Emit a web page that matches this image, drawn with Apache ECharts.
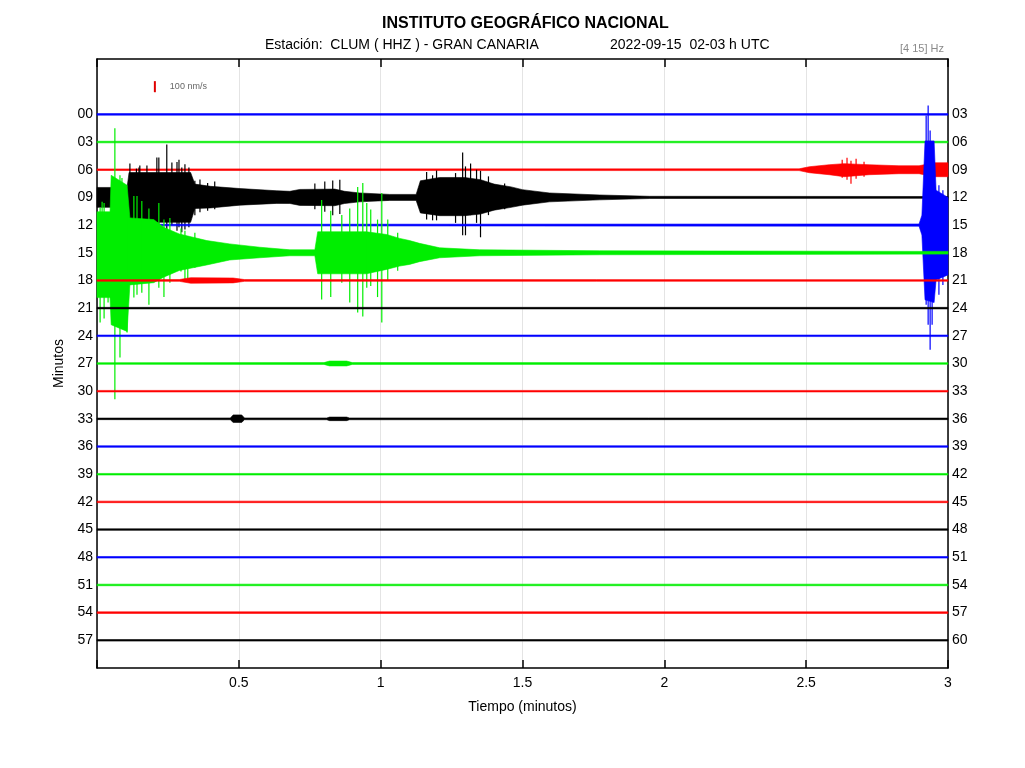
<!DOCTYPE html>
<html><head><meta charset="utf-8">
<script src="https://cdn.jsdelivr.net/npm/echarts@6/dist/echarts.min.js"></script>
<style>html,body{margin:0;padding:0;background:#fff}#c{width:1025px;height:768px}</style>
</head><body><div id="c"></div>
<script>
// ---- data ----
const rowStartLabels = ['00','03','06','09','12','15','18','21','24','27','30','33','36','39','42','45','48','51','54','57'];
const rowEndLabels   = ['03','06','09','12','15','18','21','24','27','30','33','36','39','42','45','48','51','54','57','60'];
const xTickValues = [0.5, 1, 1.5, 2, 2.5, 3];
const scaleBarNms = 100;               // nm/s shown by the red bar
const NMS_PER_ROW = 250;               // amplitude units per trace spacing
const quietNoise = 7;                  // nm/s background level for quiet traces

// dense core envelopes: [minute, up (nm/s), down (nm/s)]
const core06 = [[0,7,7],[2.475,8,8],[2.511,27,27],[2.581,45,45],[2.634,55,63],[2.722,45,45],[2.827,36,36],[2.898,36,36],[2.951,63,63],[3,63,63]];
const core09 = [[0,90,90],[0.106,90,90],[0.113,225,225],[0.330,225,225],[0.345,120,100],[0.400,100,95],[0.504,80,70],[0.634,60,54],[0.680,55,55],[0.715,72,72],[0.838,75,75],[0.873,55,55],[0.926,40,40],[1.032,27,27],[1.125,27,27],[1.140,150,140],[1.208,180,165],[1.296,180,165],[1.352,160,150],[1.400,120,115],[1.460,95,90],[1.500,70,70],[1.595,40,40],[1.771,22,22],[1.947,10,10],[3,8,8]];
const core12 = [[0,7,7],[2.898,10,10],[2.908,90,90],[2.919,760,675],[2.951,760,700],[2.958,315,495],[3,250,450]];
const core15 = [[0,370,405],[0.046,370,405],[0.050,700,650],[0.106,610,710],[0.116,315,290],[0.200,300,270],[0.235,230,220],[0.290,170,160],[0.387,110,110],[0.468,80,65],[0.574,50,45],[0.680,27,27],[0.768,27,27],[0.778,190,190],[0.950,190,190],[1.021,165,150],[1.067,130,120],[1.102,110,105],[1.137,85,80],[1.208,45,45],[1.349,27,27],[1.771,18,18],[3,12,12]];
const core18 = [[0,7,7],[0.29,8,8],[0.33,25,25],[0.48,22,22],[0.52,8,8],[3,7,7]];
const core27 = [[0,7,7],[0.80,8,8],[0.82,22,22],[0.88,22,22],[0.90,8,8],[3,7,7]];
const core33 = [[0,7,7],[0.47,8,8],[0.48,36,32],[0.51,36,32],[0.52,8,8],[0.81,8,8],[0.82,16,16],[0.88,16,16],[0.89,8,8],[3,7,7]];

// individual peaks: [minute, up (nm/s), down (nm/s)]
const spikes06 = [[2.627,90,72],[2.644,108,90],[2.658,81,126],[2.676,99,81],[2.704,72,63]];
const spikes09 = [[0.116,306,252],[0.139,260,315],[0.148,270,300],[0.151,288,270],[0.176,288,250],[0.211,360,290],[0.218,360,290],[0.246,477,340],[0.264,315,250],[0.282,320,300],[0.289,340,270],[0.299,270,315],[0.310,300,290],[0.324,270,270],[0.345,150,160],[0.363,162,135],[0.390,130,120],[0.415,144,108],[0.768,126,108],[0.803,144,130],[0.831,153,162],[0.856,160,150],[1.162,230,200],[1.183,200,207],[1.197,243,207],[1.264,220,230],[1.289,405,342],[1.299,280,342],[1.317,306,160],[1.338,250,230],[1.352,240,360],[1.380,190,160],[1.437,126,108]];
const spikes12 = [[2.923,990,720],[2.930,1080,900],[2.937,855,1125],[2.944,630,900],[2.968,360,630],[2.982,315,540]];
const spikes15 = [[0.011,405,630],[0.018,460,350],[0.025,450,594],[0.039,360,450],[0.063,1125,1323],[0.081,700,945],[0.088,675,540],[0.106,495,720],[0.130,513,405],[0.141,513,378],[0.158,468,360],[0.183,400,470],[0.218,450,315],[0.236,300,400],[0.257,315,270],[0.296,220,170],[0.310,198,252],[0.320,150,240],[0.345,180,135],[0.792,477,423],[0.824,380,400],[0.863,342,270],[0.891,400,450],[0.919,594,540],[0.937,630,576],[0.951,450,315],[0.965,390,300],[0.989,300,400],[1.004,540,630],[1.025,300,252],[1.060,180,162]];

// ---- styling / assembly ----
const traceColorCycle = ['#0000ff','#00ee00','#ff0000','#000000'];
const cores = {2: core06, 3: core09, 4: core12, 5: core15, 6: core18, 9: core27, 11: core33};
const spikes = {2: spikes06, 3: spikes09, 4: spikes12, 5: spikes15};
const FONT = 'Liberation Sans, Arial, sans-serif';

function makeCore(i){
  const env = cores[i] || [[0,quietNoise,quietNoise],[3,quietNoise,quietNoise]];
  const color = traceColorCycle[i % 4];
  return {
    type:'custom', xAxisIndex:0, yAxisIndex:0, silent:true, animation:false, z: 2 + i,
    data:[[0,i]],
    renderItem(params, api){
      const up = env.map(p => api.coord([p[0], i - p[1]/NMS_PER_ROW]));
      const dn = env.slice().reverse().map(p => api.coord([p[0], i + p[2]/NMS_PER_ROW]));
      return {type:'polygon', shape:{points: up.concat(dn)}, style:{fill: color, stroke: color, lineWidth: 0.6}};
    }
  };
}
function makeSpikes(i){
  const color = traceColorCycle[i % 4];
  return {
    type:'custom', xAxisIndex:0, yAxisIndex:0, silent:true, animation:false, z: 2 + i,
    data: spikes[i],
    renderItem(params, api){
      const a = api.coord([api.value(0), i - api.value(1)/NMS_PER_ROW]);
      const b = api.coord([api.value(0), i + api.value(2)/NMS_PER_ROW]);
      return {type:'line', shape:{x1:a[0], y1:a[1], x2:b[0], y2:b[1]}, style:{stroke: color, lineWidth: 1.2}};
    }
  };
}

const series = [];
rowStartLabels.forEach((_, i) => {
  series.push(makeCore(i));
  if (spikes[i]) series.push(makeSpikes(i));
});
series.push({
  type:'custom', xAxisIndex:0, yAxisIndex:0, silent:true, animation:false, z: 30,
  data:[[0.204, -1]],
  renderItem(params, api){
    const half = scaleBarNms/2/NMS_PER_ROW;
    const a = api.coord([api.value(0), api.value(1) - half]);
    const b = api.coord([api.value(0), api.value(1) + half]);
    return {type:'group', children:[
      {type:'line', shape:{x1:a[0], y1:a[1], x2:b[0], y2:b[1]}, style:{stroke:'#e00000', lineWidth:2}},
      {type:'text', style:{text: scaleBarNms + ' nm/s', x: a[0] + 15, y: (a[1]+b[1])/2, verticalAlign:'middle', fill:'#666', font: '9px ' + FONT}}
    ]};
  }
});

const chart = echarts.init(document.getElementById('c'), null, {renderer:'canvas'});
chart.setOption({
  backgroundColor:'#fff',
  animation:false,
  title:[
    {text:'INSTITUTO GEOGRÁFICO NACIONAL', left:377, top:11, textStyle:{fontFamily:FONT, fontSize:16, fontWeight:'bold', color:'#000'}},
    {text:'Estación:  CLUM ( HHZ ) - GRAN CANARIA', left:260, top:33, textStyle:{fontFamily:FONT, fontSize:14, fontWeight:'normal', color:'#000'}},
    {text:'2022-09-15  02-03 h UTC', left:605, top:33, textStyle:{fontFamily:FONT, fontSize:14, fontWeight:'normal', color:'#000'}},
    {text:'[4 15] Hz', left:895, top:38, textStyle:{fontFamily:FONT, fontSize:11, fontWeight:'normal', color:'#8a8a8a'}}
  ],
  grid:{left:97, right:77, top:59, bottom:100, containLabel:false},
  xAxis:[
    {type:'value', min:0, max:3, interval:0.5, position:'bottom',
     axisLine:{onZero:false, lineStyle:{color:'#000', width:1.5}},
     axisTick:{inside:true, length:8, lineStyle:{color:'#000', width:1.5}},
     axisLabel:{fontFamily:FONT, fontSize:14, color:'#000', margin:8, formatter: v => xTickValues.includes(v) ? String(v) : ''},
     splitLine:{show:true, lineStyle:{color:'#e4e4e4', width:1}},
     name:'Tiempo (minutos)', nameLocation:'middle', nameGap:32, nameTextStyle:{fontFamily:FONT, fontSize:14, color:'#000'}},
    {type:'value', min:0, max:3, interval:0.5, position:'top',
     axisLine:{onZero:false, lineStyle:{color:'#000', width:1.5}},
     axisTick:{inside:true, length:8, lineStyle:{color:'#000', width:1.5}},
     axisLabel:{show:false}, splitLine:{show:false}}
  ],
  yAxis:[
    {type:'value', inverse:true, min:-2, max:20, interval:1, position:'left',
     axisLine:{onZero:false, lineStyle:{color:'#000', width:1.5}},
     axisTick:{show:false},
     axisLabel:{fontFamily:FONT, fontSize:14, color:'#000', margin:4, formatter: v => (v>=0 && v<rowStartLabels.length) ? rowStartLabels[v] : ''},
     splitLine:{show:false},
     name:'Minutos', nameLocation:'middle', nameRotate:90, nameGap:24, nameTextStyle:{fontFamily:FONT, fontSize:14, color:'#000'}},
    {type:'value', inverse:true, min:-2, max:20, interval:1, position:'right',
     axisLine:{onZero:false, lineStyle:{color:'#000', width:1.5}},
     axisTick:{show:false},
     axisLabel:{fontFamily:FONT, fontSize:14, color:'#000', margin:4, formatter: v => (v>=0 && v<rowEndLabels.length) ? rowEndLabels[v] : ''},
     splitLine:{show:false}}
  ],
  series: series
});
</script></body></html>
